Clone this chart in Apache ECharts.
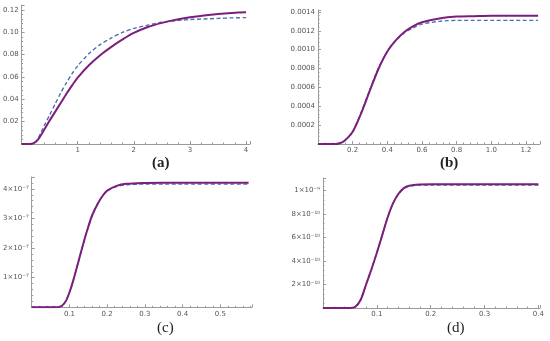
<!DOCTYPE html>
<html><head><meta charset="utf-8">
<script src="https://cdn.jsdelivr.net/npm/echarts@6/dist/echarts.min.js"></script>
<style>html,body{margin:0;padding:0;background:#fff}#c{width:550px;height:341px}</style>
</head><body><div id="c"></div>
<script>
// Panel (a)
const aX = [0, 0.1, 0.2, 0.25, 0.3, 0.4, 0.5, 0.6, 0.7, 0.8, 0.9, 1.0, 1.2, 1.4, 1.6, 1.8, 2.0, 2.25, 2.5, 2.75, 3.0, 3.25, 3.5, 3.75, 4.0];
const aSolid = [0, 0, 0.0005, 0.0018, 0.0045, 0.0125, 0.021, 0.029, 0.037, 0.045, 0.0525, 0.0595, 0.0705, 0.0795, 0.087, 0.0937, 0.0995, 0.1048, 0.1085, 0.1113, 0.1135, 0.1152, 0.1165, 0.1174, 0.118];
const aDashed = [0, 0, 0.0005, 0.002, 0.0055, 0.016, 0.026, 0.036, 0.046, 0.055, 0.063, 0.070, 0.081, 0.089, 0.095, 0.100, 0.1035, 0.1065, 0.109, 0.1105, 0.1115, 0.112, 0.1125, 0.113, 0.1132];
// Panel (b)
const bX = [0, 0.1, 0.12, 0.15, 0.2, 0.25, 0.3, 0.35, 0.4, 0.45, 0.5, 0.55, 0.6, 0.7, 0.8, 0.9, 1.0, 1.1, 1.2, 1.27];
const bSolid = [0, 0, 0.000005, 0.00003, 0.00013, 0.00033, 0.00057, 0.00080, 0.00098, 0.00110, 0.00119, 0.00125, 0.00129, 0.00133, 0.00135, 0.001355, 0.00136, 0.00136, 0.00136, 0.00136];
const bDashed = [0, 0, 0.000005, 0.00003, 0.00013, 0.00034, 0.00058, 0.00081, 0.00098, 0.00110, 0.00118, 0.00123, 0.00127, 0.00130, 0.00131, 0.00131, 0.00131, 0.00131, 0.00131, 0.00131];
// Panel (c), values in units of 1e-7
const cX = [0, 0.05, 0.07, 0.08, 0.09, 0.1, 0.11, 0.125, 0.14, 0.15, 0.16, 0.175, 0.19, 0.2, 0.225, 0.25, 0.3, 0.35, 0.4, 0.5, 0.575];
const cSolid = [0, 0, 0.005, 0.05, 0.2, 0.5, 0.9, 1.6, 2.3, 2.72, 3.1, 3.5, 3.8, 3.94, 4.1, 4.17, 4.2, 4.21, 4.21, 4.21, 4.21];
const cDashed = [0, 0, 0.005, 0.05, 0.2, 0.5, 0.9, 1.6, 2.3, 2.72, 3.1, 3.5, 3.8, 3.93, 4.08, 4.14, 4.16, 4.16, 4.16, 4.16, 4.16];
// Panel (d), values in units of 1e-10
const dX = [0, 0.05, 0.06, 0.07, 0.08, 0.09, 0.1, 0.11, 0.12, 0.13, 0.14, 0.15, 0.16, 0.18, 0.2, 0.3, 0.4];
const dSolid = [0, 0, 0.1, 0.7, 2.0, 3.3, 4.7, 6.2, 7.7, 8.9, 9.7, 10.2, 10.4, 10.5, 10.53, 10.53, 10.53];
const dDashed = [0, 0, 0.1, 0.7, 2.0, 3.3, 4.7, 6.2, 7.7, 8.9, 9.7, 10.15, 10.35, 10.45, 10.47, 10.47, 10.47];

const panelLabels = ['(a)', '(b)', '(c)', '(d)'];

const SOLID = '#7b1f7d', DASH = '#4f6fae', AX = '#9a9a9a', LBL = '#555';
const zip = (xs, ys) => xs.map((x, i) => [x, ys[i]]);

function axis(idx, max, interval, fmt) {
  return {
    type: 'value', gridIndex: idx, min: 0, max: max, interval: interval,
    axisLine: {show: true, onZero: false, lineStyle: {color: AX, width: 1}},
    axisTick: {show: true, inside: true, length: 3, lineStyle: {color: AX}},
    minorTick: {show: true, splitNumber: 5, length: 1.5, lineStyle: {color: AX}},
    splitLine: {show: false},
    axisLabel: {showMinLabel: false, showMaxLabel: false, fontSize: 7, color: LBL, margin: 3, fontFamily: 'DejaVu Sans', formatter: fmt}
  };
}
function pair(idx, xs, s, d) {
  return [
    {type: 'line', xAxisIndex: idx, yAxisIndex: idx, data: zip(xs, d), showSymbol: false, smooth: 0.25,
     lineStyle: {color: DASH, width: 1.4, type: [4, 2.5]}, z: 2},
    {type: 'line', xAxisIndex: idx, yAxisIndex: idx, data: zip(xs, s), showSymbol: false, smooth: 0.25,
     lineStyle: {color: SOLID, width: 2}, z: 3}
  ];
}
const fix = n => v => v.toFixed(n);

const chart = echarts.init(document.getElementById('c'), null, {renderer: 'canvas'});
chart.setOption({
  animation: false,
  grid: [
    {left: 20, top: 5, width: 230, height: 139},
    {left: 318, top: 10, width: 222, height: 134},
    {left: 30.5, top: 177, width: 221.5, height: 130.3},
    {left: 323, top: 178, width: 217, height: 130}
  ],
  xAxis: [
    axis(0, 4.07, 1, v => String(Math.round(v))),
    axis(1, 1.281, 0.2, fix(1)),
    axis(2, 0.584, 0.1, fix(1)),
    axis(3, 0.403, 0.1, fix(1))
  ],
  yAxis: [
    axis(0, 0.1245, 0.02, fix(2)),
    axis(1, 0.00142, 0.0002, fix(4)),
    axis(2, 4.4, 1, v => Math.round(v) + '×10⁻⁷'),
    axis(3, 11.06, 2, v => Math.round(v) === 10 ? '1×10⁻⁹' : Math.round(v) + '×10⁻¹⁰')
  ],
  graphic: [
    {type: 'text', left: 152, top: 156, style: {text: panelLabels[0], font: 'bold 15px "Liberation Serif"', fill: '#222'}},
    {type: 'text', left: 440, top: 156, style: {text: panelLabels[1], font: 'bold 15px "Liberation Serif"', fill: '#222'}},
    {type: 'text', left: 157, top: 321, style: {text: panelLabels[2], font: '15px "Liberation Serif"', fill: '#222'}},
    {type: 'text', left: 447, top: 321, style: {text: panelLabels[3], font: '15px "Liberation Serif"', fill: '#222'}}
  ],
  series: [].concat(
    pair(0, aX, aSolid, aDashed),
    pair(1, bX, bSolid, bDashed),
    pair(2, cX, cSolid, cDashed),
    pair(3, dX, dSolid, dDashed)
  )
});
</script></body></html>
